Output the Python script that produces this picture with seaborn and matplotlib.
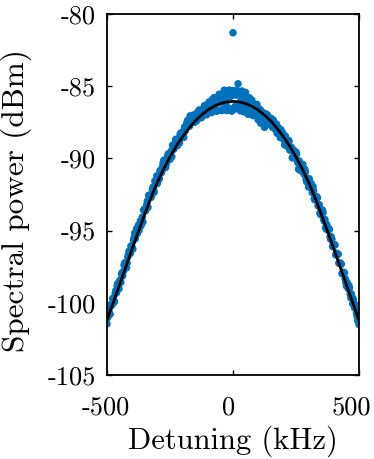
import matplotlib
matplotlib.use("Agg")
import matplotlib.pyplot as plt
import matplotlib.transforms as mtransforms
import seaborn as sns
import pandas as pd

# ---- data ----
# sweep A: every 5 kHz
detuning_a_khz = list(range(-500, 505, 5))
power_a_dbm = [
    -101.46, -100.79, -100.80, -100.13, -100.13, -99.72, -99.90, -99.15, -98.81, -98.91,
    -98.49, -98.59, -97.91, -97.83, -97.24, -97.24, -97.25, -96.66, -96.58, -96.07,
    -96.16, -95.67, -95.17, -95.27, -95.20, -94.62, -94.64, -94.66, -94.07, -93.58,
    -93.51, -93.53, -92.96, -92.56, -92.67, -92.70, -92.15, -92.11, -91.56, -91.60,
    -91.74, -91.30, -90.85, -91.01, -90.57, -90.13, -90.30, -90.40, -89.89, -89.90,
    -90.07, -89.49, -89.09, -89.36, -88.96, -88.98, -89.11, -88.63, -88.33, -88.54,
    -88.16, -88.55, -88.10, -87.64, -87.36, -87.49, -87.05, -87.37, -87.01, -87.33,
    -86.97, -87.41, -86.98, -86.65, -86.91, -87.17, -86.59, -86.77, -86.36, -86.98,
    -86.48, -86.09, -86.46, -86.83, -86.18, -85.79, -86.18, -86.74, -85.93, -85.56,
    -86.11, -86.69, -85.73, -85.28, -85.85, -86.69, -85.31, -85.27, -85.72, -86.73,
    -81.30,
    -85.45, -86.57, -85.27, -84.83, -85.41, -86.71, -85.33, -85.82, -86.78, -85.43,
    -86.07, -86.95, -85.80, -86.61, -85.96, -87.04, -86.32, -86.98, -86.26, -87.33,
    -86.89, -87.56, -86.77, -87.53, -87.85, -86.91, -87.67, -87.15, -87.66, -87.23,
    -87.76, -87.35, -87.88, -87.73, -88.26, -87.87, -88.24, -88.01, -88.55, -88.41,
    -89.06, -88.59, -88.98, -88.76, -89.41, -89.21, -89.96, -89.43, -89.92, -89.56,
    -90.16, -90.74, -90.31, -90.82, -90.56, -91.00, -90.76, -91.45, -91.38, -91.99,
    -91.69, -91.73, -92.37, -92.23, -92.87, -92.84, -92.73, -93.22, -93.79, -93.59,
    -93.58, -94.24, -94.23, -94.90, -94.79, -94.86, -95.44, -95.43, -96.10, -95.99,
    -95.99, -96.58, -96.66, -97.25, -97.24, -97.32, -97.91, -97.91, -98.33, -98.84,
    -98.74, -98.81, -99.40, -99.39, -100.07, -100.05, -100.13, -100.71, -101.22, -101.50,
]

# sweep B: interleaved points, every 5 kHz starting at -497.5 kHz
detuning_b_khz = [k + 2.5 for k in range(-500, 500, 5)]
power_b_dbm = [
    -101.03, -100.54, -100.79, -100.20, -99.70, -99.96, -99.36, -99.32, -98.67, -99.03,
    -98.43, -98.03, -98.13, -97.38, -97.53, -97.58, -96.83, -96.43, -96.58, -96.18,
    -96.28, -95.49, -95.55, -94.86, -94.92, -94.98, -94.34, -94.30, -94.41, -93.52,
    -93.64, -93.21, -93.38, -92.55, -92.62, -92.55, -91.99, -92.33, -91.72, -91.21,
    -91.41, -91.43, -90.84, -90.91, -90.32, -90.45, -90.63, -90.02, -89.70, -89.94,
    -89.58, -89.88, -89.13, -89.23, -88.68, -89.09, -88.66, -88.93, -88.25, -88.37,
    -88.39, -87.83, -87.96, -87.50, -87.63, -87.77, -87.22, -87.46, -87.16, -87.50,
    -87.06, -86.83, -87.15, -86.87, -87.19, -86.62, -86.80, -86.33, -86.86, -86.49,
    -86.23, -86.78, -86.22, -85.92, -86.37, -86.67, -85.88, -86.14, -86.66, -85.62,
    -85.94, -86.62, -85.60, -85.42, -86.30, -85.74, -85.43, -86.57, -85.66, -85.30,
    -85.45, -86.41, -85.62, -85.38, -86.34, -85.60, -85.97, -86.70, -85.82, -86.29,
    -85.82, -86.76, -86.09, -86.63, -86.02, -86.87, -86.42, -86.27, -86.98, -86.53,
    -86.99, -86.61, -87.38, -87.10, -86.92, -87.49, -87.27, -87.00, -87.63, -87.41,
    -87.25, -87.86, -87.61, -87.97, -87.62, -88.08, -87.95, -88.56, -88.33, -88.24,
    -88.72, -88.45, -89.13, -88.91, -88.79, -89.43, -89.28, -89.93, -89.48, -89.88,
    -89.69, -90.30, -90.17, -90.83, -90.45, -90.42, -91.11, -90.94, -91.63, -91.46,
    -91.41, -92.02, -91.93, -91.94, -92.80, -92.67, -92.65, -93.28, -93.21, -93.89,
    -93.72, -93.76, -94.35, -94.79, -94.58, -94.97, -94.91, -95.60, -95.59, -95.98,
    -95.98, -96.68, -96.58, -96.63, -97.28, -97.28, -97.98, -97.88, -97.93, -98.58,
    -98.58, -99.02, -98.97, -99.66, -99.61, -99.75, -100.35, -100.39, -100.94, -101.28,
]

fit_khz = list(range(-500, 525, 25))
fit_dbm = [
    -101.20, -99.98, -98.75, -97.50, -96.25, -95.05, -93.85, -92.70, -91.65, -90.73,
    -89.90, -89.15, -88.50, -87.92, -87.40, -87.00, -86.65, -86.39, -86.20, -86.09,
    -86.05,
    -86.09, -86.20, -86.39, -86.65, -87.00, -87.40, -87.92, -88.50, -89.15, -89.90,
    -90.73, -91.65, -92.70, -93.85, -95.05, -96.25, -97.50, -98.75, -99.98, -101.20,
]

x_ticks = [-500, 0, 500]
x_tick_labels = ["-500", "0", "500"]
y_ticks = [-105, -100, -95, -90, -85, -80]
y_tick_labels = ["-105", "-100", "-95", "-90", "-85", "-80"]

x_label = "Detuning (kHz)"
y_label = "Spectral power (dBm)"

# ---- style ----
sns.set_theme(style="ticks")
plt.rcParams["font.family"] = ["cmr10", "DejaVu Serif"]
plt.rcParams["mathtext.fontset"] = "cm"
plt.rcParams["axes.unicode_minus"] = False
plt.rcParams["axes.formatter.use_mathtext"] = True

W, H = 374, 459
fig = plt.figure(figsize=(W / 100, H / 100), dpi=100)
ax = fig.add_axes([107 / W, 1 - 375 / H, (359 - 107) / W, (375 - 14) / H])

scatter_df = pd.DataFrame({
    "x": detuning_a_khz + detuning_b_khz,
    "y": power_a_dbm + power_b_dbm,
})
fit_df = pd.DataFrame({"x": fit_khz, "y": fit_dbm})

sns.scatterplot(data=scatter_df, x="x", y="y", ax=ax, color="#0072BD",
                s=29, edgecolor="none", linewidth=0, zorder=2)
sns.lineplot(data=fit_df, x="x", y="y", ax=ax, color="black",
             linewidth=2.0, zorder=3, sort=False)

ax.set_xlim(-500, 500)
ax.set_ylim(-105, -80)
ax.set_xticks(x_ticks)
ax.set_xticklabels(x_tick_labels)
ax.set_yticks(y_ticks)
ax.set_yticklabels(y_tick_labels)
ax.minorticks_off()

for sp in ax.spines.values():
    sp.set_visible(True)
    sp.set_linewidth(1.3)
    sp.set_color("black")

ax.tick_params(axis="both", which="major", direction="in", length=3.5,
               width=1.0, color="black", labelsize=19, labelcolor="black",
               top=True, right=True)
ax.tick_params(axis="x", pad=15)
ax.tick_params(axis="y", pad=8)

# small horizontal offsets of x tick labels as in the reference
for lab, dx in zip(ax.get_xticklabels(), [-1, -4, -8]):
    lab.set_transform(lab.get_transform() +
                      mtransforms.ScaledTranslation(dx / 100, 0, fig.dpi_scale_trans))

ax.set_xlabel(x_label, fontsize=22, color="black", labelpad=4)
ax.set_ylabel(y_label, fontsize=22.5, color="black", labelpad=11)
ax.yaxis.label.set_y(0.5 - 6 / 361)

fig.savefig("out.png", dpi=100)
